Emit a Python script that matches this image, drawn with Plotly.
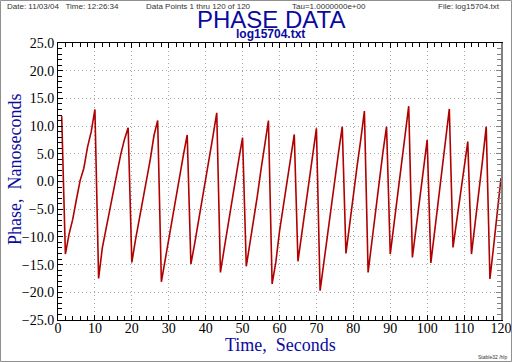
import plotly.graph_objects as go

time_s = list(range(1, 121))
phase_ns = [
    11.8, -13.1, -9.5, -6.8, -3.2, 0.2, 2.4, 6.2, 9.0, 13.0,
    -17.5, -12.0, -8.6, -5.0, -1.4, 1.6, 4.9, 7.6, 9.7, -14.6,
    -10.5, -6.9, -3.0, 0.5, 4.0, 8.3, 11.0, -18.1, -14.2, -10.0,
    -6.3, -2.5, 1.4, 4.9, 8.4, -14.9, -11.3, -7.5, -3.8, 0.4,
    4.2, 8.3, 12.4, -16.4, -12.2, -8.0, -3.9, 0.2, 4.1, 7.9,
    -15.3, -11.1, -7.0, -2.6, 2.2, 6.6, 11.0, -18.5, -14.6, -9.0,
    -4.6, -0.5, 4.2, 8.5, -14.4, -9.5, -5.0, 0.4, 5.0, 9.6,
    -19.7, -14.5, -9.6, -4.2, 0.6, 5.3, 9.9, -13.0, -7.8, -2.2,
    2.7, 7.5, 12.7, -16.4, -10.9, -5.3, -0.1, 5.2, 9.9, -13.1,
    -7.8, -2.2, 3.1, 8.2, 13.6, -13.7, -8.2, -2.5, 2.6, 7.5,
    -14.7, -9.1, -3.4, 2.3, 7.8, 13.1, -11.9, -6.9, -2.0, 2.6,
    7.2, -13.1, -7.8, -2.0, 3.8, 9.9, -17.6, -11.7, -5.5, 0.6,
]

x_ticks = list(range(0, 121, 10))
y_ticks = [-25, -20, -15, -10, -5, 0, 5, 10, 15, 20, 25]

W, H = 512, 362
L, R, T, B = 58, 11, 43, 42
PW, PH = W - L - R, H - T - B

def px(xp):
    return (xp - L) / PW

def py(yp):
    return (H - B - yp) / PH

BLUE = "#0a0aa0"
GRID = "#a8a8a8"

fig = go.Figure()
fig.add_trace(go.Scatter(x=time_s, y=phase_ns, mode="lines",
                         line=dict(color="#b00000", width=1.6),
                         showlegend=False, hoverinfo="skip"))
# invisible trace for right-hand axis
fig.add_trace(go.Scatter(x=[time_s[0]], y=[phase_ns[0]], yaxis="y2", mode="lines",
                         line=dict(width=0), showlegend=False, hoverinfo="skip"))

fig.update_layout(
    width=W, height=H,
    margin=dict(l=L, r=R, t=T, b=B, autoexpand=False),
    paper_bgcolor="white", plot_bgcolor="white",
    xaxis=dict(range=[0, 120], tickvals=x_ticks, ticks="inside", ticklen=5,
               tickcolor="black", showline=True, linecolor="black", linewidth=1,
               mirror="ticks", showgrid=True, gridcolor=GRID, griddash="1px,3px",
               gridwidth=1, zeroline=False, automargin=False, ticklabelstandoff=-5,
               minor=dict(dtick=2, ticks="inside", ticklen=4, tickcolor="black", showgrid=False),
               tickfont=dict(family="Liberation Serif", size=14, color="black")),
    yaxis=dict(range=[-25, 25], tickvals=y_ticks, tickformat=".1f", ticks="inside", ticklen=5,
               tickcolor="black", showline=True, linecolor="black", linewidth=1,
               showgrid=True, gridcolor=GRID, griddash="1px,3px", gridwidth=1, zeroline=False,
               automargin=False,
               minor=dict(dtick=1, ticks="inside", ticklen=4, tickcolor="black", showgrid=False),
               tickfont=dict(family="Liberation Serif", size=14, color="black")),
    yaxis2=dict(range=[-25, 25], overlaying="y", side="right", tickvals=y_ticks,
                showticklabels=False, ticks="inside", ticklen=5, tickcolor="#808080",
                showline=True, linecolor="#808080", linewidth=2, showgrid=False,
                zeroline=False, automargin=False,
                minor=dict(dtick=1, ticks="inside", ticklen=4, tickcolor="#808080")),
)

small = dict(family="Liberation Sans", size=8, color="#333333")
ann = [
    dict(text="Date: 11/03/04   Time: 12:26:34", x=px(5), y=py(6), xanchor="left", font=small),
    dict(text="Data Points 1 thru 120 of 120", x=px(198.7), y=py(6), xanchor="center", font=small),
    dict(text="Tau=1.0000000e+00", x=px(329), y=py(6), xanchor="center", font=small),
    dict(text="File: log15704.txt", x=px(502), y=py(6), xanchor="right", font=small),
    dict(text="PHASE DATA", x=px(270.5), y=py(19), xanchor="center",
         font=dict(family="Liberation Sans", size=24, color=BLUE)),
    dict(text="<b>log15704.txt</b>", x=px(270), y=py(34), xanchor="center",
         font=dict(family="Liberation Sans", size=12, color=BLUE)),
    dict(text="Phase,  Nanoseconds", x=px(15), y=py(170), xanchor="center", textangle=-90,
         font=dict(family="Liberation Serif", size=18, color=BLUE)),
    dict(text="Time,  Seconds", x=px(280), y=py(345), xanchor="center",
         font=dict(family="Liberation Serif", size=18, color=BLUE)),
    dict(text="Stable32 /hlp", x=px(509), y=py(357), xanchor="right",
         font=dict(family="Liberation Sans", size=5, color="#333333")),
]
for a in ann:
    a.update(xref="paper", yref="paper", yanchor="middle", showarrow=False)
fig.update_layout(annotations=ann)

fig.add_shape(type="rect", xref="paper", yref="paper", x0=px(0.5), x1=px(511.5),
              y0=py(361.5), y1=py(0.5), line=dict(color="#909090", width=1))

fig.write_html("out.html", config={"displayModeBar": False},
               post_script="document.body.style.margin='0';document.body.style.overflow='hidden';")
